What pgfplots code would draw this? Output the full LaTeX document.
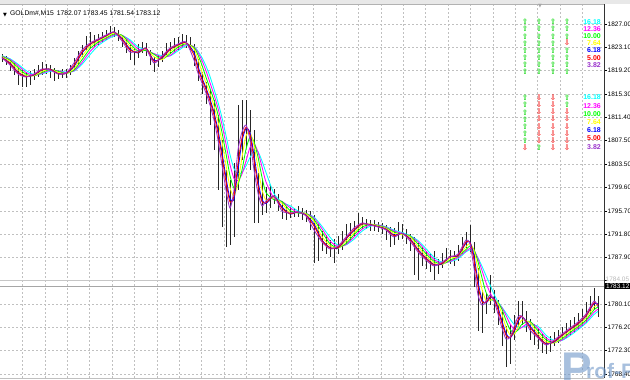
\documentclass[border=0pt]{standalone}
\usepackage{pgfplots}
\usepackage{pgfplotstable}
\pgfplotsset{compat=1.18}
\usepackage{fontspec}
\setmainfont{Liberation Sans}
\newfontfamily\dejavu{DejaVu Sans}
\definecolor{macyan}{RGB}{0,255,255}
\definecolor{mamag}{RGB}{255,0,255}
\definecolor{malime}{RGB}{0,255,0}
\definecolor{mayel}{RGB}{255,255,0}
\definecolor{mablue}{RGB}{0,0,255}
\definecolor{mared}{RGB}{255,0,0}
\definecolor{mapur}{RGB}{153,50,204}
\definecolor{gridc}{RGB}{192,192,192}
\definecolor{arrg}{RGB}{30,220,30}
\definecolor{arrr}{RGB}{245,40,40}
\definecolor{wm}{RGB}{110,150,200}

\pgfplotstableread{
x c h l
2 1821.31 1822.0 1820.6
6 1820.80 1821.6 1820.1
10 1820.13 1821.0 1819.2
14 1819.30 1820.4 1818.4
18 1818.63 1819.6 1816.7
22 1818.29 1819.3 1816.5
26 1818.12 1819.0 1816.4
30 1818.29 1819.2 1816.8
34 1818.63 1819.5 1817.6
38 1819.13 1820.2 1818.1
42 1819.46 1820.6 1818.4
46 1819.63 1820.3 1818.7
50 1819.30 1820.1 1817.9
54 1818.79 1819.6 1817.5
58 1818.63 1819.3 1817.8
62 1818.63 1819.4 1817.9
66 1818.79 1819.5 1818.0
70 1819.30 1820.2 1818.5
74 1820.47 1821.3 1819.2
78 1821.64 1822.5 1820.3
82 1822.65 1823.4 1821.4
86 1823.32 1825.0 1822.4
90 1823.82 1825.6 1822.9
94 1824.15 1825.2 1823.1
98 1824.49 1825.3 1823.5
102 1824.82 1825.6 1823.9
106 1825.16 1826.0 1824.3
110 1825.66 1826.6 1824.8
114 1825.66 1826.5 1824.9
118 1824.99 1826.0 1824.1
122 1824.15 1825.2 1823.2
126 1823.32 1824.4 1822.2
130 1822.31 1823.5 1821.0
134 1821.81 1822.9 1820.2
138 1822.48 1823.6 1821.3
142 1823.15 1824.0 1822.1
146 1822.81 1823.8 1821.6
150 1821.31 1822.7 1820.1
154 1820.47 1821.5 1818.9
158 1820.97 1821.8 1819.8
162 1821.64 1822.5 1820.6
166 1822.48 1823.8 1821.4
170 1822.98 1824.0 1822.0
174 1823.32 1824.6 1822.3
178 1823.65 1824.9 1822.7
182 1823.82 1825.3 1822.9
186 1823.99 1825.2 1823.0
190 1823.48 1824.8 1822.6
194 1820.97 1823.6 1820.0
198 1818.79 1821.2 1817.5
202 1817.12 1819.0 1815.3
206 1815.44 1817.3 1813.6
210 1813.43 1816.0 1810.0
214 1810.92 1814.3 1805.9
218 1807.57 1811.8 1799.2
222 1803.38 1807.6 1793.0
226 1799.20 1802.5 1789.6
230 1796.18 1800.9 1790.0
234 1799.20 1803.7 1791.3
238 1805.90 1813.4 1799.2
242 1808.91 1814.3 1804.2
246 1810.08 1814.3 1806.4
250 1807.57 1812.6 1802.5
254 1802.55 1809.2 1793.7
258 1798.69 1802.0 1793.7
262 1796.52 1800.9 1795.0
266 1797.35 1799.7 1795.3
270 1798.19 1800.0 1796.2
274 1798.19 1799.4 1796.8
278 1797.02 1798.6 1795.6
282 1795.68 1797.3 1794.3
286 1795.01 1796.4 1794.2
290 1795.34 1796.3 1794.5
294 1795.51 1796.2 1794.6
298 1795.51 1796.5 1794.7
302 1795.18 1796.2 1794.2
306 1794.84 1795.9 1793.9
310 1794.51 1795.6 1792.5
314 1792.50 1795.0 1787.0
318 1791.16 1793.5 1787.3
322 1790.49 1792.3 1789.0
326 1789.82 1791.6 1788.4
330 1789.31 1790.8 1787.9
334 1789.15 1791.0 1787.0
338 1789.82 1791.5 1788.4
342 1790.65 1792.3 1789.2
346 1791.32 1793.5 1790.0
350 1791.99 1793.6 1790.6
354 1792.83 1794.0 1791.4
358 1793.33 1795.3 1792.2
362 1793.67 1794.7 1792.6
366 1793.50 1794.4 1792.7
370 1793.33 1794.2 1792.4
374 1793.17 1794.1 1792.3
378 1793.00 1793.9 1792.1
382 1792.83 1793.7 1791.8
386 1792.50 1793.4 1790.8
390 1791.99 1793.0 1789.6
394 1791.32 1792.8 1790.0
398 1791.83 1793.8 1790.8
402 1791.99 1793.5 1791.0
406 1791.49 1792.7 1790.2
410 1790.65 1791.9 1789.0
414 1789.65 1791.3 1785.0
418 1788.81 1790.4 1784.1
422 1788.14 1789.6 1786.4
426 1787.47 1789.0 1785.9
430 1786.97 1788.4 1785.4
434 1786.47 1789.0 1784.1
438 1786.47 1787.7 1785.2
442 1787.14 1788.6 1786.1
446 1788.14 1789.4 1786.9
450 1787.97 1789.2 1786.8
454 1787.81 1789.0 1786.5
458 1788.48 1790.0 1787.3
462 1789.82 1791.3 1788.5
466 1790.82 1792.2 1789.4
470 1790.15 1793.3 1788.8
474 1786.13 1790.5 1783.0
478 1781.61 1786.2 1775.5
482 1779.93 1782.5 1775.3
486 1780.60 1782.0 1778.5
490 1781.61 1785.0 1779.9
494 1780.60 1782.4 1778.6
498 1778.43 1780.8 1776.6
502 1776.08 1778.8 1773.0
506 1774.24 1776.5 1769.6
510 1774.57 1776.6 1770.0
514 1776.25 1778.3 1774.0
518 1777.92 1780.6 1776.2
522 1778.09 1780.6 1776.6
526 1777.09 1779.0 1775.4
530 1775.75 1777.6 1774.0
534 1775.08 1776.7 1773.3
538 1774.41 1776.0 1772.6
542 1773.74 1775.2 1771.9
546 1773.23 1774.6 1771.7
550 1773.40 1774.8 1772.0
554 1774.07 1775.4 1773.0
558 1774.57 1775.8 1773.5
562 1775.08 1776.3 1774.0
566 1775.58 1777.0 1774.4
570 1776.08 1777.5 1774.9
574 1776.42 1777.9 1775.3
578 1777.09 1778.6 1775.8
582 1777.76 1779.2 1776.5
586 1778.43 1780.4 1777.0
590 1779.77 1781.5 1778.4
594 1780.60 1782.8 1779.1
598 1779.60 1781.4 1777.9
}\bars

\pgfplotstableread{
x c m g yl b r p
2 1821.67 1821.61 1821.56 1821.47 1821.39 1821.36 1821.31
10 1821.19 1821.07 1820.93 1820.75 1820.47 1820.36 1820.13
18 1820.27 1820.03 1819.71 1819.35 1818.96 1818.85 1818.63
26 1819.21 1818.89 1818.58 1818.35 1818.21 1818.18 1818.12
34 1818.54 1818.39 1818.33 1818.35 1818.46 1818.51 1818.63
42 1818.65 1818.73 1818.88 1819.07 1819.30 1819.35 1819.46
50 1819.07 1819.23 1819.38 1819.46 1819.46 1819.41 1819.30
58 1819.16 1819.16 1819.09 1818.90 1818.71 1818.68 1818.63
66 1818.96 1818.83 1818.71 1818.68 1818.71 1818.74 1818.79
74 1819.10 1819.16 1819.30 1819.52 1819.88 1820.08 1820.47
82 1820.25 1820.57 1821.01 1821.58 1822.14 1822.31 1822.65
90 1821.86 1822.38 1822.85 1823.26 1823.57 1823.65 1823.82
98 1823.34 1823.68 1823.94 1824.15 1824.32 1824.38 1824.49
106 1824.29 1824.49 1824.66 1824.82 1824.99 1825.05 1825.16
114 1824.99 1825.16 1825.33 1825.49 1825.66 1825.66 1825.66
122 1825.07 1825.12 1825.12 1824.93 1824.57 1824.43 1824.15
130 1824.35 1824.09 1823.69 1823.26 1822.81 1822.65 1822.31
138 1823.18 1822.81 1822.48 1822.20 1822.14 1822.26 1822.48
146 1822.65 1822.51 1822.56 1822.81 1822.98 1822.93 1822.81
154 1822.00 1822.04 1821.93 1821.53 1820.89 1820.75 1820.47
162 1821.72 1821.44 1821.10 1821.03 1821.31 1821.42 1821.64
170 1821.64 1821.71 1822.02 1822.37 1822.73 1822.81 1822.98
178 1822.51 1822.81 1823.11 1823.32 1823.48 1823.54 1823.65
186 1823.37 1823.55 1823.69 1823.82 1823.90 1823.93 1823.99
194 1823.20 1823.18 1823.06 1822.81 1822.23 1821.81 1820.97
198 1822.45 1822.21 1821.81 1821.08 1819.88 1819.52 1818.79
202 1821.36 1820.87 1820.09 1818.96 1817.96 1817.68 1817.12
206 1819.97 1819.16 1818.08 1817.12 1816.28 1816.00 1815.44
210 1818.21 1817.15 1816.20 1815.33 1814.44 1814.10 1813.43
214 1816.11 1815.14 1814.23 1813.27 1812.18 1811.76 1810.92
218 1813.88 1812.90 1811.84 1810.64 1809.25 1808.69 1807.57
222 1811.31 1810.15 1808.83 1807.29 1805.48 1804.78 1803.38
226 1808.32 1806.90 1805.27 1803.38 1801.29 1800.59 1799.20
230 1805.11 1803.45 1801.58 1799.59 1797.69 1797.19 1796.18
234 1802.74 1801.10 1799.49 1798.19 1797.69 1798.19 1799.20
238 1801.90 1800.77 1800.12 1800.42 1802.55 1803.66 1805.90
242 1802.13 1801.88 1802.55 1804.67 1807.40 1807.91 1808.91
246 1803.24 1804.05 1806.02 1808.30 1809.50 1809.69 1810.08
250 1804.64 1806.33 1808.11 1808.85 1808.83 1808.41 1807.57
254 1805.70 1807.00 1807.28 1806.73 1805.06 1804.22 1802.55
258 1805.62 1805.56 1804.72 1802.94 1800.62 1799.98 1798.69
262 1804.05 1803.08 1801.33 1799.25 1797.60 1797.24 1796.52
266 1802.13 1800.54 1798.78 1797.52 1796.93 1797.07 1797.35
274 1798.58 1797.79 1797.56 1797.91 1798.19 1798.19 1798.19
282 1797.16 1797.29 1797.27 1796.96 1796.35 1796.12 1795.68
290 1796.57 1796.25 1795.76 1795.34 1795.18 1795.23 1795.34
298 1795.68 1795.41 1795.34 1795.46 1795.51 1795.51 1795.51
306 1795.23 1795.28 1795.26 1795.18 1795.01 1794.95 1794.84
314 1794.67 1794.51 1794.25 1793.95 1793.50 1793.17 1792.50
322 1793.11 1792.70 1792.16 1791.38 1790.82 1790.71 1790.49
330 1791.29 1790.65 1790.19 1789.87 1789.56 1789.48 1789.31
338 1789.95 1789.71 1789.52 1789.42 1789.48 1789.59 1789.82
346 1790.01 1790.05 1790.23 1790.60 1790.99 1791.10 1791.32
354 1790.96 1791.32 1791.70 1792.05 1792.41 1792.55 1792.83
362 1792.30 1792.63 1792.96 1793.28 1793.50 1793.56 1793.67
370 1793.11 1793.33 1793.46 1793.50 1793.42 1793.39 1793.33
378 1793.33 1793.33 1793.25 1793.17 1793.08 1793.05 1793.00
386 1793.05 1792.96 1792.87 1792.78 1792.66 1792.61 1792.50
394 1792.47 1792.33 1792.16 1791.94 1791.66 1791.55 1791.32
402 1792.08 1791.93 1791.78 1791.71 1791.91 1791.94 1791.99
410 1791.55 1791.46 1791.49 1791.38 1791.07 1790.93 1790.65
418 1790.74 1790.52 1790.15 1789.70 1789.23 1789.09 1788.81
426 1789.37 1788.94 1788.52 1788.14 1787.81 1787.69 1787.47
434 1787.92 1787.57 1787.26 1786.97 1786.72 1786.63 1786.47
442 1787.11 1786.90 1786.76 1786.69 1786.80 1786.91 1787.14
450 1787.19 1787.24 1787.43 1787.75 1788.06 1788.03 1787.97
458 1787.67 1787.91 1788.10 1788.08 1788.14 1788.25 1788.48
466 1788.84 1788.98 1789.23 1789.70 1790.32 1790.49 1790.82
470 1789.17 1789.41 1789.82 1790.26 1790.49 1790.37 1790.15
474 1788.87 1789.08 1789.23 1789.03 1788.14 1787.47 1786.13
478 1787.83 1787.70 1787.18 1785.96 1783.87 1783.12 1781.61
482 1786.41 1785.73 1784.46 1782.56 1780.77 1780.49 1779.93
486 1784.87 1783.68 1782.07 1780.71 1780.27 1780.38 1780.60
490 1783.34 1781.98 1780.94 1780.71 1781.11 1781.27 1781.61
494 1781.75 1780.87 1780.69 1780.94 1781.11 1780.94 1780.60
498 1780.46 1780.23 1780.31 1780.21 1779.51 1779.15 1778.43
502 1779.54 1779.46 1779.18 1778.37 1777.25 1776.86 1776.08
506 1778.59 1778.19 1777.34 1776.25 1775.16 1774.85 1774.24
510 1777.59 1776.78 1775.83 1774.96 1774.41 1774.46 1774.57
514 1776.70 1775.91 1775.28 1775.02 1775.41 1775.69 1776.25
518 1776.25 1775.81 1775.75 1776.25 1777.09 1777.37 1777.92
522 1776.19 1776.21 1776.71 1777.42 1778.01 1778.03 1778.09
530 1776.61 1777.02 1777.21 1776.97 1776.42 1776.19 1775.75
538 1776.39 1776.08 1775.58 1775.08 1774.74 1774.63 1774.41
546 1774.88 1774.44 1774.11 1773.79 1773.48 1773.40 1773.23
554 1773.99 1773.77 1773.61 1773.57 1773.74 1773.85 1774.07
562 1774.01 1774.07 1774.28 1774.57 1774.82 1774.91 1775.08
570 1774.80 1775.08 1775.33 1775.58 1775.83 1775.91 1776.08
578 1775.80 1776.05 1776.29 1776.53 1776.75 1776.86 1777.09
586 1776.89 1777.15 1777.42 1777.76 1778.09 1778.20 1778.43
594 1778.34 1778.73 1779.14 1779.60 1780.18 1780.32 1780.60
598 1778.87 1779.23 1779.60 1779.99 1780.10 1779.93 1779.60
}\mas

\begin{document}
\begin{tikzpicture}
\useasboundingbox (0,0) rectangle (630bp,380bp);
\fill[white] (0,0) rectangle (630bp,380bp);
\fill[gray!18] (0,376bp) rectangle (630bp,380bp);
\begin{axis}[
  at={(0,2bp)}, anchor=south west, scale only axis,
  width=604bp, height=374bp,
  xmin=0, xmax=604, ymin=1767.71, ymax=1830.35,
  axis x line=bottom, axis y line=right,
  axis line style={-},
  x axis line style={gridc},
  y axis line style={black!80, line width=0.8bp},
  xtick={22.4,44.8,...,590}, xticklabel=\empty,
  x tick style={draw=none},
  ytick={1768.4,1772.3,1776.2,1780.1,1784.0,1787.9,1791.8,1795.7,1799.6,1803.5,1807.5,1811.4,1815.3,1819.2,1823.1,1827.0},
  yticklabels={1768.40,1772.30,1776.20,1780.10,{},1787.90,1791.80,1795.70,1799.60,1803.50,1807.50,1811.40,1815.30,1819.20,1823.10,1827.00},
  scaled y ticks=false,
  yticklabel style={font=\fontsize{6.5}{7}\selectfont, inner xsep=1bp},
  tick align=outside, major tick length=2.5bp,
  y tick style={black, line width=0.6bp},
  grid=major,
  major grid style={gridc, dash pattern=on 2bp off 2bp, line width=0.6bp},
  clip=false,
]
\draw[gray!60] (rel axis cs:0,1) -- (rel axis cs:1,1);
% bid / ask lines
\addplot[gray!45, line width=0.8bp, forget plot] coordinates {(0,1784.05) (604,1784.05)};
\addplot[gray!70, line width=0.8bp, forget plot] coordinates {(0,1783.12) (604,1783.12)};
% price bars (high-low)
\addplot[draw=none, mark=none, forget plot,
  error bars/.cd, y dir=both, y explicit, error mark=none,
  error bar style={draw=black!85, solid, line width=0.9bp}]
  table[x=x, y=c, y error plus expr=\thisrow{h}-\thisrow{c}, y error minus expr=\thisrow{c}-\thisrow{l}] {\bars};
% moving averages
\addplot[macyan, line width=0.85bp, smooth, tension=0.4] table[x=x, y=c] {\mas};
\addplot[mamag, line width=0.85bp, smooth, tension=0.4] table[x=x, y=m] {\mas};
\addplot[malime, line width=0.85bp, smooth, tension=0.4] table[x=x, y=g] {\mas};
\addplot[mayel, line width=0.85bp, smooth, tension=0.4] table[x=x, y=yl] {\mas};
\addplot[mablue, line width=0.85bp, smooth, tension=0.4] table[x=x, y=b] {\mas};
\addplot[mared, line width=0.85bp, smooth, tension=0.4] table[x=x, y=r] {\mas};
\addplot[mapur, line width=0.85bp, smooth, tension=0.4] table[x=x, y=p] {\mas};
% signal arrows
\addplot[draw=none, mark=none, nodes near coords={\dejavu\bfseries ⇧},
  every node near coord/.style={anchor=center, inner sep=0pt, text=arrg, font=\fontsize{7.6}{7.6}\selectfont}] coordinates {
 (525,1827.33) (525,1826.15) (525,1824.96) (525,1823.77) (525,1822.58) (525,1821.39) (525,1820.20) (525,1819.01)
 (539,1827.33) (539,1826.15) (539,1824.96) (539,1823.77) (539,1822.58) (539,1821.39) (539,1820.20) (539,1819.01)
 (553,1827.33) (553,1826.15) (553,1824.96) (553,1823.77) (553,1822.58) (553,1821.39) (553,1820.20) (553,1819.01)
 (567,1827.33) (567,1826.15) (567,1824.96) (567,1822.58) (567,1821.39) (567,1820.20) (567,1819.01)
 (525,1814.61) (525,1813.42) (525,1812.23) (525,1811.04) (525,1809.85) (525,1808.66) (525,1807.47)
 (539,1806.28) (567,1814.61) (567,1813.42)
};
\addplot[draw=none, mark=none, nodes near coords={\dejavu\bfseries ⇩},
  every node near coord/.style={anchor=center, inner sep=0pt, text=arrr, font=\fontsize{7.6}{7.6}\selectfont}] coordinates {
 (567,1823.77) (525,1806.28)
 (539,1814.61) (539,1813.42) (539,1812.23) (539,1811.04) (539,1809.85) (539,1808.66) (539,1807.47)
 (553,1814.61) (553,1813.42) (553,1812.23) (553,1811.04) (553,1809.85) (553,1808.66) (553,1807.47) (553,1806.28)
 (567,1812.23) (567,1811.04) (567,1809.85) (567,1808.66) (567,1807.47) (567,1806.28)
};
% level labels
\begin{scope}[every node/.style={anchor=east, inner sep=0pt, font=\bfseries\fontsize{7}{7}\selectfont}]
\node[text=macyan] at (axis cs:601,1827.39) {16.18};
\node[text=mamag] at (axis cs:601,1826.18) {12.36};
\node[text=malime] at (axis cs:601,1824.97) {10.00};
\node[text=mayel] at (axis cs:601,1823.77) {7.64};
\node[text=mablue] at (axis cs:601,1822.56) {6.18};
\node[text=mared] at (axis cs:601,1821.36) {5.00};
\node[text=mapur] at (axis cs:601,1820.15) {3.82};
\node[text=macyan] at (axis cs:601,1814.69) {16.18};
\node[text=mamag] at (axis cs:601,1813.32) {12.36};
\node[text=malime] at (axis cs:601,1811.94) {10.00};
\node[text=mayel] at (axis cs:601,1810.57) {7.64};
\node[text=mablue] at (axis cs:601,1809.20) {6.18};
\node[text=mared] at (axis cs:601,1807.82) {5.00};
\node[text=mapur] at (axis cs:601,1806.45) {3.82};
\end{scope}
% title
\node[anchor=west, inner sep=0pt, font=\fontsize{6.8}{8}\selectfont] at (axis cs:10,1828.68) {GOLDm\#,M15\hspace{3bp}1782.07 1783.45 1781.54 1783.12};
\node[inner sep=0pt, font=\dejavu\fontsize{5}{5}\selectfont] at (axis cs:5,1828.55) {▼};
\node[inner sep=0pt, text=gray!70, font=\dejavu\fontsize{5}{5}\selectfont] at (axis cs:540,1829.95) {▼};
% price labels
\node[anchor=west, inner xsep=1.5bp, inner ysep=0.5bp, text=gray!55, font=\fontsize{6.5}{7}\selectfont] at (axis cs:604,1784.2) {1784.05};
\node[anchor=west, fill=black, text=white, inner xsep=1.5bp, inner ysep=1bp, font=\fontsize{6.5}{7}\selectfont] at (axis cs:604.3,1783.12) {1783.12};
% watermark
\node[anchor=base west, inner sep=0pt, text=wm, opacity=0.6, font=\bfseries\fontsize{46}{46}\selectfont] at (axis cs:561,1766.6) {P};
\node[anchor=base west, inner sep=0pt, text=wm, opacity=0.6, font=\bfseries\fontsize{21}{21}\selectfont] at (axis cs:586,1767.7) {rof-FX};
\end{axis}
\end{tikzpicture}
\end{document}
